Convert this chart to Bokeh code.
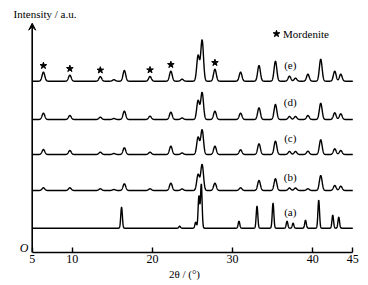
import numpy as np
from bokeh.plotting import figure
from bokeh.models import Label, Arrow, VeeHead, FixedTicker
from bokeh.embed import file_html
from bokeh.resources import INLINE

# ---- data ----
x_ticks = [5, 10, 20, 30, 40, 45]
curve_labels = ["(a)", "(b)", "(c)", "(d)", "(e)"]
offsets = [24.3, 62, 98, 133, 171.3]          # vertical stacking of patterns (a.u.)

# peak positions (2theta) for samples (b)-(e)
pos_be = [6.4, 9.7, 13.5, 15.2, 16.5, 19.7, 22.3, 23.7, 25.7, 26.2, 27.8, 31.0,
          33.3, 35.35, 37.1, 37.85, 39.4, 41.0, 42.75, 43.5]
h_b = [2.7, 2.7, 1.7, 1.0, 6.7, 1.7, 7.3, 1.5, 16, 26, 7.3, 2.7, 10, 11.7, 2.5, 2.5, 1.7, 15, 5, 4.3]
h_c = [5, 4, 2.3, 1.0, 6.7, 2.3, 8.3, 1.5, 17.3, 24.7, 8.3, 4.7, 10.7, 13.3, 3, 3, 3.3, 14.7, 5.7, 4]
h_d = [6.3, 4, 2.3, 1.0, 8.3, 3.3, 7.3, 1.5, 19, 27, 8.3, 6.3, 11.7, 15, 3, 3, 4, 16.3, 6.7, 5.7]
h_e = [9, 6, 4.5, 1.5, 10.7, 4.7, 10, 2, 25.7, 41, 12, 9, 15.7, 20, 5, 3, 7, 22, 10, 7]

# sample (a)
pos_a = [16.15, 23.4, 25.4, 25.8, 26.1, 30.8, 33.05, 35.05, 36.8, 37.55, 39.1, 40.75, 42.5, 43.25]
h_a = [21, 2, 6, 32, 44, 7, 22, 25, 7, 5, 8, 28, 13, 11]

# mordenite peaks marked with stars on (e)
star_pos = [6.4, 9.7, 13.5, 19.7, 22.3, 27.8]
star_h = [9, 6, 4.5, 4.7, 10, 12]

# ---- figure ----
SERIF = "Liberation Serif"
p = figure(width=368, height=285, x_range=(1.045, 46.96), y_range=(0, 252),
           output_backend="svg", toolbar_location=None, y_axis_location=None,
           min_border_left=0, min_border_right=0, min_border_top=0, min_border_bottom=33)
p.outline_line_color = None
p.grid.visible = False
p.background_fill_color = "white"

ax = p.xaxis[0]
ax.ticker = FixedTicker(ticks=x_ticks)
ax.bounds = (5, 45)
ax.major_tick_in = 5
ax.major_tick_out = 0
ax.minor_tick_in = 0
ax.minor_tick_out = 0
ax.axis_line_width = 1.6
ax.major_tick_line_width = 1.4
ax.major_label_standoff = 2
ax.major_label_text_font = SERIF
ax.major_label_text_font_size = "12px"
ax.major_label_text_color = "black"
ax.axis_label = "2θ / (°)"
ax.axis_label_standoff = 2
ax.axis_label_text_font = SERIF
ax.axis_label_text_font_style = "normal"
ax.axis_label_text_font_size = "11px"
ax.axis_label_text_color = "black"

xg = np.linspace(5, 45, 2001)


def profile(positions, heights, sigma):
    y = np.zeros_like(xg)
    for c, h in zip(positions, heights):
        y += h * np.exp(-0.5 * ((xg - c) / sigma) ** 2)
    return y


series = [(pos_a, h_a, 0.1), (pos_be, h_b, 0.17), (pos_be, h_c, 0.17),
          (pos_be, h_d, 0.17), (pos_be, h_e, 0.17)]
for (ps, hs, sg), off in zip(series, offsets):
    p.line(xg, off + profile(ps, hs, sg), line_color="black", line_width=1.4)

label_y = [40.3, 76, 115, 151, 188]
for lab, ly in zip(curve_labels, label_y):
    p.add_layout(Label(x=37.2, y=ly, text=lab, text_font=SERIF, text_font_size="11px",
                       text_align="center", text_baseline="middle", text_color="black"))

# stars
p.scatter(star_pos, [offsets[4] + h + 6.5 for h in star_h], marker="star",
          size=7, color="black")
p.scatter([35.48], [218.7], marker="star", size=7, color="black")
p.add_layout(Label(x=36.3, y=218.7, text="Mordenite", text_font=SERIF, text_font_size="11px",
                   text_align="left", text_baseline="middle", text_color="black"))

# y axis with arrow
p.add_layout(Arrow(end=VeeHead(size=7, fill_color="black", line_color="black", line_width=1),
                   x_start=5, y_start=0, x_end=5, y_end=229.3,
                   line_width=1.6, line_color="black"))
p.add_layout(Label(x=2.67, y=239, text="Intensity / a.u.", text_font=SERIF,
                   text_font_size="11px", text_align="left", text_baseline="middle",
                   text_color="black"))
p.add_layout(Label(x=4.0, y=5, text="O", text_font=SERIF, text_font_style="italic",
                   text_font_size="12px", text_align="center", text_baseline="middle",
                   text_color="black"))

open("out.html", "w").write(file_html(p, INLINE))
